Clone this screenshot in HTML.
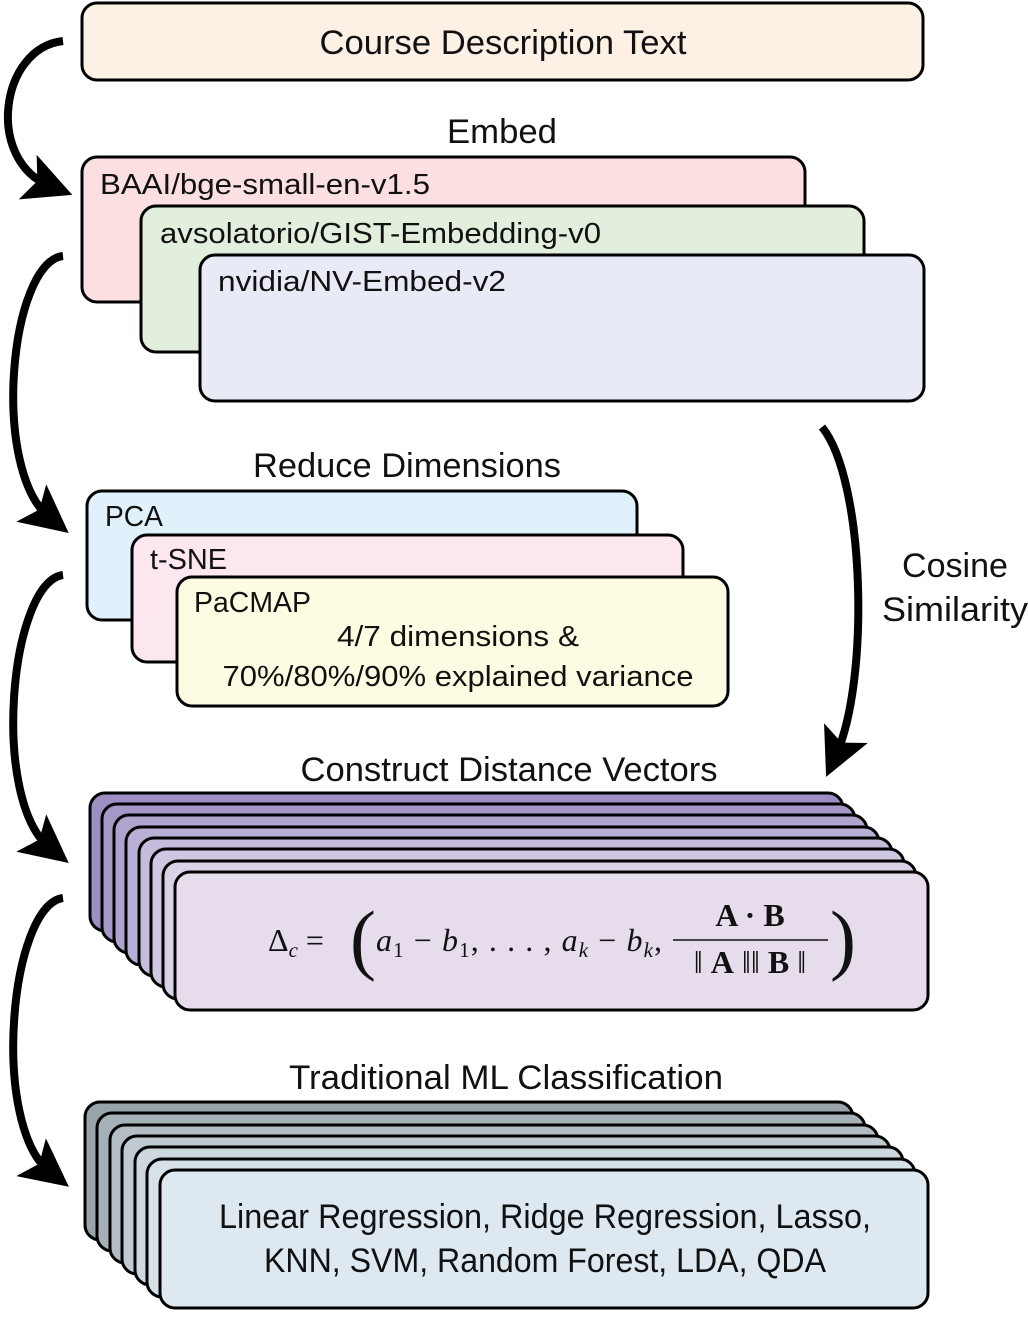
<!DOCTYPE html>
<html><head><meta charset="utf-8"><style>
html,body{margin:0;padding:0;background:#fff}
svg{display:block}
text{font-family:"Liberation Sans",sans-serif;fill:#111}
text.s{font-family:"Liberation Serif",serif}
</style></head><body>
<svg width="1028" height="1323" viewBox="0 0 1028 1323" xmlns="http://www.w3.org/2000/svg">
<defs>
<marker id="ah" markerWidth="6" markerHeight="6" refX="3" refY="3" orient="auto" markerUnits="strokeWidth">
<path d="M0,0 L6,3 L0,6 L1.3,3 Z" fill="#000"/>
</marker>
</defs>
<g stroke="#000" stroke-width="3">
<rect x="82" y="3" width="841" height="77" rx="15" fill="#fdf0e4"/>
<rect x="82" y="157" width="723" height="145" rx="15" fill="#fbdfe1"/>
<rect x="141" y="206" width="723" height="146" rx="15" fill="#e2efdd"/>
<rect x="200" y="255" width="724" height="146" rx="15" fill="#e8eaf5"/>
<rect x="87" y="491" width="550" height="129" rx="15" fill="#e0f1fb"/>
<rect x="132" y="535" width="551" height="127" rx="15" fill="#fce6f0"/>
<rect x="177" y="577" width="551" height="129" rx="15" fill="#fefbe3"/>
<rect x="90" y="793" width="753" height="138" rx="15" fill="#9d8fc3"/>
<rect x="102" y="804" width="753" height="138" rx="15" fill="#a598c8"/>
<rect x="114" y="815" width="753" height="138" rx="15" fill="#b0a4cf"/>
<rect x="126" y="827" width="753" height="138" rx="15" fill="#bab0d5"/>
<rect x="139" y="838" width="753" height="138" rx="15" fill="#c5bcdc"/>
<rect x="151" y="849" width="753" height="138" rx="15" fill="#d0c7e2"/>
<rect x="163" y="861" width="753" height="138" rx="15" fill="#dbd2e8"/>
<rect x="175" y="872" width="753" height="138" rx="15" fill="#e6dcec"/>
<rect x="85" y="1102" width="768" height="138" rx="15" fill="#98a3aa"/>
<rect x="97" y="1113" width="768" height="138" rx="15" fill="#a5b0b7"/>
<rect x="110" y="1125" width="768" height="138" rx="15" fill="#b2bdc4"/>
<rect x="122" y="1136" width="768" height="138" rx="15" fill="#bfcad1"/>
<rect x="135" y="1147" width="768" height="138" rx="15" fill="#ccd7de"/>
<rect x="147" y="1159" width="768" height="138" rx="15" fill="#d6e1e8"/>
<rect x="160" y="1170" width="768" height="138" rx="15" fill="#dde8f0"/>
</g>
<g fill="none" stroke="#000" stroke-width="8" marker-end="url(#ah)">
<path d="M63,41 C0,48 -15,160 50,186"/>
<path d="M63,256 C10,262 -10,470 50,518"/>
<path d="M63,575 C10,582 -10,800 50,848"/>
<path d="M63,898 C10,905 -10,1125 50,1172"/>
<path d="M822,427 C865,480 870,680 836,755"/>
</g>
<g font-size="34">
<text x="503" y="54" text-anchor="middle" textLength="367" lengthAdjust="spacingAndGlyphs">Course Description Text</text>
<text x="502" y="143" text-anchor="middle" textLength="110" lengthAdjust="spacingAndGlyphs">Embed</text>
<text x="407" y="477" text-anchor="middle" textLength="308" lengthAdjust="spacingAndGlyphs">Reduce Dimensions</text>
<text x="509" y="781" text-anchor="middle" textLength="417" lengthAdjust="spacingAndGlyphs">Construct Distance Vectors</text>
<text x="506" y="1089" text-anchor="middle" textLength="434" lengthAdjust="spacingAndGlyphs">Traditional ML Classification</text>
<text x="955" y="577" text-anchor="middle" textLength="106" lengthAdjust="spacingAndGlyphs">Cosine</text>
<text x="955" y="621" text-anchor="middle" textLength="146" lengthAdjust="spacingAndGlyphs">Similarity</text>
<text x="545" y="1228" text-anchor="middle" textLength="652" lengthAdjust="spacingAndGlyphs">Linear Regression, Ridge Regression, Lasso,</text>
<text x="545" y="1272" text-anchor="middle" textLength="562" lengthAdjust="spacingAndGlyphs">KNN, SVM, Random Forest, LDA, QDA</text>
</g>
<g font-size="29">
<text x="100" y="194" textLength="330" lengthAdjust="spacingAndGlyphs">BAAI/bge-small-en-v1.5</text>
<text x="160" y="243" textLength="441" lengthAdjust="spacingAndGlyphs">avsolatorio/GIST-Embedding-v0</text>
<text x="218" y="291" textLength="288" lengthAdjust="spacingAndGlyphs">nvidia/NV-Embed-v2</text>
<text x="105" y="526" textLength="58" lengthAdjust="spacingAndGlyphs">PCA</text>
<text x="150" y="569" textLength="77" lengthAdjust="spacingAndGlyphs">t-SNE</text>
<text x="194" y="612" textLength="117" lengthAdjust="spacingAndGlyphs">PaCMAP</text>
<text x="458" y="646" text-anchor="middle" textLength="242" lengthAdjust="spacingAndGlyphs">4/7 dimensions &amp;</text>
<text x="458" y="686" text-anchor="middle" textLength="471" lengthAdjust="spacingAndGlyphs">70%/80%/90% explained variance</text>
</g>
<g font-size="32">
<text class="s" x="268" y="951">Δ<tspan font-style="italic" font-size="21" dy="6">c</tspan><tspan dy="-6"> =</tspan></text>
<text class="s" x="350" y="965" font-size="78" style="font-weight:100">(</text>
<text class="s" x="376" y="951" font-style="italic" textLength="286">a<tspan font-style="normal" font-size="21" dy="6">1</tspan><tspan font-style="normal" dy="-6"> − </tspan>b<tspan font-style="normal" font-size="21" dy="6">1</tspan><tspan font-style="normal" dy="-6">, . . . , </tspan>a<tspan font-size="21" dy="6">k</tspan><tspan font-style="normal" dy="-6"> − </tspan>b<tspan font-size="21" dy="6">k</tspan><tspan font-style="normal" dy="-6">,</tspan></text>
<text class="s" x="750" y="926" text-anchor="middle" font-weight="bold">A · B</text>
<line x1="673" y1="940" x2="828" y2="940" stroke="#111" stroke-width="1.6"/>
<text class="s" x="750" y="973" text-anchor="middle">‖ <tspan font-weight="bold">A</tspan> ‖‖ <tspan font-weight="bold">B</tspan> ‖</text>
<text class="s" x="830" y="965" font-size="78">)</text>
</g>
</svg>
</body></html>
